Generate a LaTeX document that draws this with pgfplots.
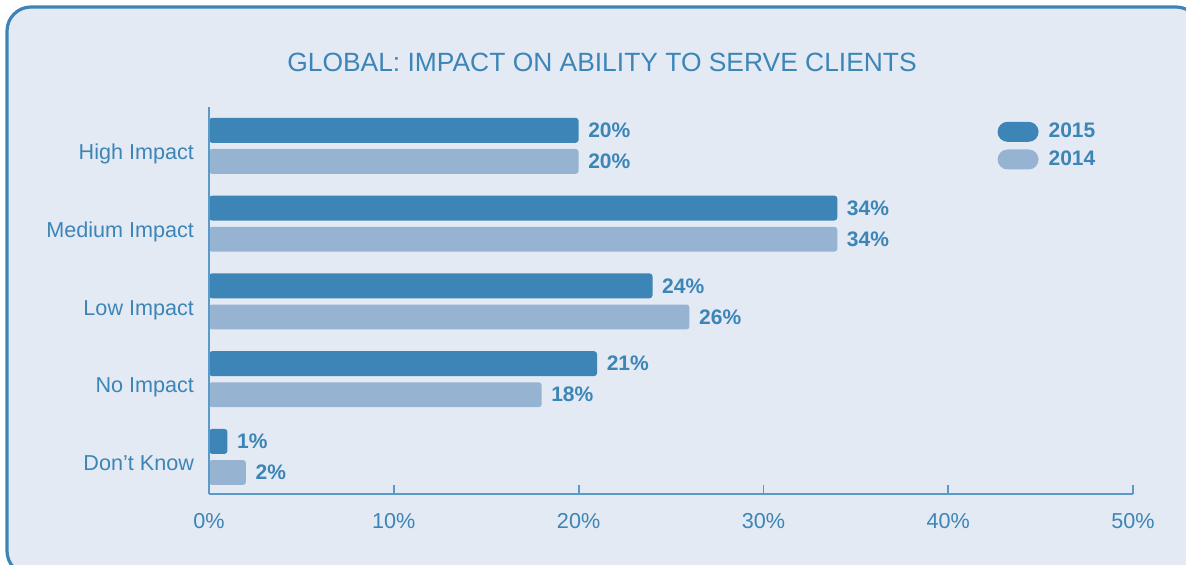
\documentclass[border=0pt]{standalone}
\usepackage{pgfplots}
\pgfplotsset{compat=1.18}
\usepackage{pgfplotstable}
\usepackage{fontspec}
\setmainfont{Liberation Sans}
\definecolor{dk}{HTML}{3C85B6}
\definecolor{lt}{HTML}{97B3D2}
\definecolor{bg}{HTML}{E3EAF4}
\definecolor{ax}{HTML}{5A9AC8}
\definecolor{txt}{HTML}{3C85B6}

\pgfplotstableread{
y v15 v14
4 20 20
3 34 34
2 24 26
1 21 18
0 1 2
}\data

\begin{document}
\begin{tikzpicture}
\path[use as bounding box] (0pt,0pt) rectangle (593pt,282.5pt);
\begin{scope}
\clip (0pt,0pt) rectangle (593pt,282.5pt);
\fill[white] (0pt,0pt) rectangle (593pt,282.5pt);
\draw[dk, line width=1.6pt, fill=bg, rounded corners=12pt] (3.5pt,279pt) rectangle (600pt,-5pt);
\end{scope}
\node[txt, font=\fontsize{13.2}{16}\selectfont] at (301pt,251.5pt) {GLOBAL: IMPACT ON ABILITY TO SERVE CLIENTS};
\begin{axis}[
  at={(104.5pt,35.5pt)}, anchor=south west,
  scale only axis, width=462pt, height=193.5pt,
  xmin=0, xmax=50, ymin=-0.476, ymax=4.5,
  axis x line*=bottom, axis y line*=left,
  axis line style={ax, line width=0.9pt},
  xtick={0,10,...,50},
  ytick={0,1,2,3,4},
  yticklabels={Don't Know, No Impact, Low Impact, Medium Impact, High Impact},
  /pgf/number format/assume math mode=true,
  xticklabel={\pgfmathprintnumber{\tick}\%},
  major tick length=4.5pt, tick align=inside,
  y tick style={draw=none},
  x tick style={ax, line width=0.9pt},
  xticklabel style={txt, font=\fontsize{10.8}{12}\selectfont, yshift=-6.2pt},
  yticklabel style={txt, font=\fontsize{10.8}{12}\selectfont, xshift=0.5pt, yshift=-4.3pt, text height=0.75em, text depth=0.25em},
  xbar, bar width=0.32,
  clip=false, axis on top,
  nodes near coords={\pgfmathprintnumber{\pgfplotspointmeta}\%},
  every node near coord/.append style={txt, font=\bfseries\fontsize{10.5}{12}\selectfont, anchor=west, xshift=1.3pt},
  legend style={at={(rel axis cs:0.853,0.97)}, anchor=north west, draw=none, fill=none, inner sep=0pt, row sep=1pt, font=\bfseries\fontsize{10.5}{12}\selectfont, text=txt,
    /tikz/every odd column/.append style={column sep=3pt}},
  legend cell align=left,
]
\addplot[draw=none, fill=dk, rounded corners=1.5pt, bar shift=0.2,
  legend image code/.code={\fill[dk, rounded corners=5pt] (0pt,-5pt) rectangle (20.5pt,5pt);}]
  table[x=v15, y=y] {\data};
\addlegendentry{2015}
\addplot[draw=none, fill=lt, rounded corners=1.5pt, bar shift=-0.2,
  legend image code/.code={\fill[lt, rounded corners=5pt] (0pt,-5pt) rectangle (20.5pt,5pt);}]
  table[x=v14, y=y] {\data};
\addlegendentry{2014}
\end{axis}
\end{tikzpicture}
\end{document}
